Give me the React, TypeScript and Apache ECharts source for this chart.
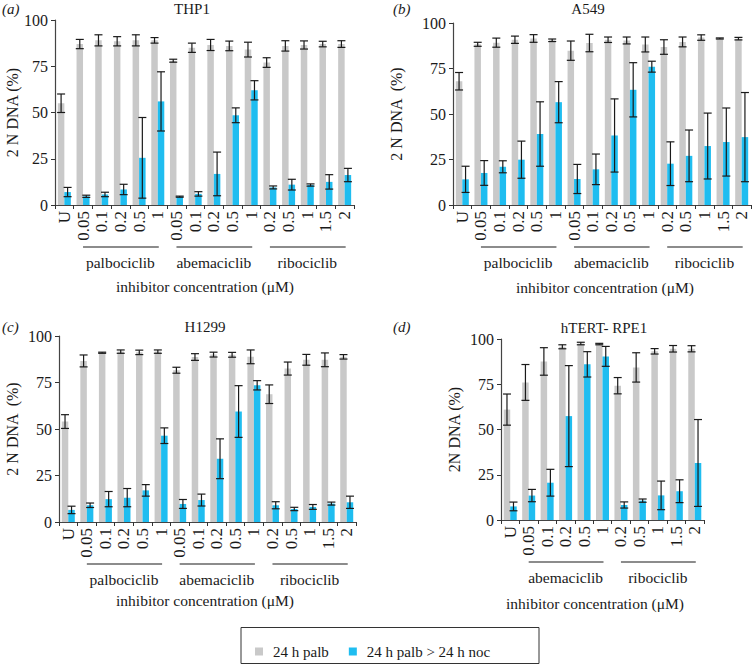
import React, { useEffect, useRef } from "react";
import * as echarts from "echarts";

const FONT = "'Liberation Serif', 'Times New Roman', serif";
const GRAY = "#c9c9c9";
const BLUE = "#1fbdf0";
const INK = "#1a1a1a";

// ---- tick labels ----
const ticks16 = ["U", "0.05", "0.1", "0.2", "0.5", "1", "0.05", "0.1", "0.2", "0.5", "1", "0.2", "0.5", "1", "1.5", "2"];
const ticks11 = ["U", "0.05", "0.1", "0.2", "0.5", "1", "0.2", "0.5", "1", "1.5", "2"];
const legendNames = ["24 h palb", "24 h palb > 24 h noc"];

// ---- (a) THP1 ----
const thp1Gray = [55, 87, 89, 88.5, 89, 89, 78, 85, 86.5, 86, 84, 77, 86, 86.5, 87, 87];
const thp1GrayErr = [5, 2.5, 3, 2.5, 3, 1.5, 0.8, 2.5, 3, 2.6, 4, 2.6, 2.8, 2.2, 1.5, 1.8];
const thp1Blue = [7, 4.7, 5.7, 8.4, 25.5, 56, 4.5, 6, 16.8, 48.5, 62, 9.5, 11, 10.8, 12.5, 16.2];
const thp1BlueErr = [2.5, 0.6, 1.2, 2.8, 21.8, 16, 0.3, 1.2, 11.8, 4, 5.2, 0.8, 2.9, 0.6, 3.9, 3.6];

// ---- (b) A549 ----
const a549Gray = [68, 88.3, 89.2, 90.8, 91.5, 90.5, 84.8, 89, 90.8, 90.4, 88.2, 86.8, 89.6, 92, 91.5, 91.4];
const a549GrayErr = [4.8, 1.1, 2.5, 2, 2.1, 0.7, 5.3, 4.8, 1.5, 1.9, 4.1, 4, 2.7, 1.5, 0.3, 0.7];
const a549Blue = [14.1, 17.6, 21, 24.9, 39, 56.5, 14.3, 19.6, 38.2, 63.3, 76, 22.7, 27, 32.4, 34.6, 37.3];
const a549BlueErr = [7.2, 6.8, 3.3, 10.2, 17.7, 11.3, 8, 8.4, 20.1, 14.9, 3, 12, 14.2, 18.1, 18.7, 24.5];

// ---- (c) H1299 ----
const h1299Gray = [54, 86.6, 91, 91.6, 91.2, 91.6, 81.6, 88.7, 90, 89.9, 88.8, 68.7, 82.5, 87.2, 87.2, 88.8];
const h1299GrayErr = [3.7, 3.2, 0.3, 0.9, 1.2, 0.9, 1.6, 1.8, 1.3, 1.3, 3.7, 5, 3.5, 2.9, 3.7, 1.2];
const h1299Blue = [6.5, 9, 12.3, 13.1, 17, 46.4, 9.7, 11.8, 34, 59.4, 73.5, 9, 7, 8.1, 9.9, 10.6];
const h1299BlueErr = [2, 1.2, 4.1, 4.9, 3.1, 4.2, 2.4, 3.2, 10.7, 13.9, 2.5, 1.9, 0.9, 1.3, 0.8, 3.3];

// ---- (d) hTERT-RPE1 ----
const rpeGray = [61, 76, 87.6, 95.7, 97.5, 97.2, 74.2, 84.3, 93.2, 94.6, 94.6];
const rpeGrayErr = [8.6, 9.9, 7.6, 1.1, 0.7, 0.4, 4.5, 8.1, 1.5, 1.8, 1.7];
const rpeBlue = [7.5, 13.5, 20.6, 57.4, 86, 90.4, 8.3, 10.7, 13.6, 15.9, 31.5];
const rpeBlueErr = [2.4, 3.4, 7.4, 27.9, 7, 5.5, 1.7, 0.9, 7.9, 6.3, 24];

// ---- groups (category index ranges) ----
const groups3 = [
  { name: "palbociclib", from: 1, to: 5 },
  { name: "abemaciclib", from: 6, to: 10 },
  { name: "ribociclib", from: 11, to: 15 },
];
const groups2 = [
  { name: "abemaciclib", from: 1, to: 5 },
  { name: "ribociclib", from: 6, to: 10 },
];

const panels = [
  { letter: "(a)", title: "THP1", yName: "2 N DNA (%)", ticks: ticks16, gray: thp1Gray, grayErr: thp1GrayErr, blue: thp1Blue, blueErr: thp1BlueErr, groups: groups3 },
  { letter: "(b)", title: "A549", yName: "2 N DNA  (%)", ticks: ticks16, gray: a549Gray, grayErr: a549GrayErr, blue: a549Blue, blueErr: a549BlueErr, groups: groups3 },
  { letter: "(c)", title: "H1299", yName: "2 N DNA  (%)", ticks: ticks16, gray: h1299Gray, grayErr: h1299GrayErr, blue: h1299Blue, blueErr: h1299BlueErr, groups: groups3 },
  { letter: "(d)", title: "hTERT- RPE1", yName: "2N DNA (%)", ticks: ticks11, gray: rpeGray, grayErr: rpeGrayErr, blue: rpeBlue, blueErr: rpeBlueErr, groups: groups2 },
];

// layout (pixels)
const layout = [
  { grid: { left: 55, top: 20, width: 299, height: 185 }, nameGap: 35, title: [192, 9], letter: [2, 9], axisTitle: [205, 286] },
  { grid: { left: 453, top: 23, width: 298, height: 182 }, nameGap: 49, title: [588, 9], letter: [393, 9], axisTitle: [605, 287] },
  { grid: { left: 59, top: 336, width: 297, height: 186 }, nameGap: 39, title: [205, 327], letter: [2, 327], axisTitle: [205, 600] },
  { grid: { left: 501, top: 339, width: 203, height: 181 }, nameGap: 39, title: [604, 328], letter: [393, 327], axisTitle: [595, 603] },
];

const BAR_W = 6.5;

function errRenderer(offset: number) {
  return (params: any, api: any) => {
    const x = api.value(0);
    const v = api.value(1);
    const e = api.value(2);
    const hi = api.coord([x, v + e]);
    const lo = api.coord([x, Math.max(0, v - e)]);
    const cx = hi[0] + offset;
    const cap = 4;
    const style = { stroke: INK, lineWidth: 1.2 };
    return {
      type: "group",
      children: [
        { type: "line", shape: { x1: cx, y1: hi[1], x2: cx, y2: lo[1] }, style },
        { type: "line", shape: { x1: cx - cap, y1: hi[1], x2: cx + cap, y2: hi[1] }, style },
        { type: "line", shape: { x1: cx - cap, y1: lo[1], x2: cx + cap, y2: lo[1] }, style },
      ],
    };
  };
}

export default function App() {
  const ref = useRef<HTMLDivElement>(null);
  useEffect(() => {
    document.body.style.margin = "0";
    if (!ref.current) return;
    const chart = echarts.init(ref.current, undefined, { renderer: "svg" });

    const grids: any[] = [];
    const xAxes: any[] = [];
    const yAxes: any[] = [];
    const series: any[] = [];

    panels.forEach((p, i) => {
      const L = layout[i];
      grids.push({ ...L.grid, containLabel: false });
      xAxes.push({
        type: "category",
        gridIndex: i,
        data: p.ticks,
        axisLine: { lineStyle: { color: "#444", width: 1.2 } },
        axisTick: { show: true, length: 4, alignWithLabel: false, lineStyle: { color: "#333" } },
        axisLabel: { interval: 0, rotate: 90, margin: 6, fontFamily: FONT, fontSize: 17, color: INK },
        splitLine: { show: false },
      });
      yAxes.push({
        type: "value",
        gridIndex: i,
        min: 0,
        max: 100,
        interval: 25,
        name: p.yName,
        nameLocation: "middle",
        nameRotate: 90,
        nameGap: L.nameGap,
        nameTextStyle: { fontFamily: FONT, fontSize: 16, color: INK },
        axisLine: { show: true, lineStyle: { color: "#444", width: 1.2 } },
        axisTick: { show: true, length: 4, lineStyle: { color: "#333" } },
        axisLabel: { margin: 7, fontFamily: FONT, fontSize: 16, color: INK },
        splitLine: { show: false },
      });
      series.push({
        type: "bar",
        name: legendNames[0],
        xAxisIndex: i,
        yAxisIndex: i,
        data: p.gray,
        barWidth: BAR_W,
        barGap: "0%",
        itemStyle: { color: GRAY },
      });
      series.push({
        type: "bar",
        name: legendNames[1],
        xAxisIndex: i,
        yAxisIndex: i,
        data: p.blue,
        barWidth: BAR_W,
        barGap: "0%",
        itemStyle: { color: BLUE },
      });
      series.push({
        type: "custom",
        name: "err-gray-" + i,
        xAxisIndex: i,
        yAxisIndex: i,
        z: 5,
        renderItem: errRenderer(-BAR_W / 2),
        data: p.gray.map((v, k) => [k, v, p.grayErr[k]]),
      });
      series.push({
        type: "custom",
        name: "err-blue-" + i,
        xAxisIndex: i,
        yAxisIndex: i,
        z: 5,
        renderItem: errRenderer(BAR_W / 2),
        data: p.blue.map((v, k) => [k, v, p.blueErr[k]]),
      });
    });

    chart.setOption({
      animation: false,
      backgroundColor: "#ffffff",
      grid: grids,
      xAxis: xAxes,
      yAxis: yAxes,
      series,
      legend: {
        data: legendNames,
        left: 250,
        top: 639,
        itemWidth: 8,
        itemHeight: 8,
        itemGap: 20,
        icon: "rect",
        selectedMode: false,
        textStyle: { fontFamily: FONT, fontSize: 15, color: INK, padding: [0, 0, 0, 5] },
      },
    });

    const g: any[] = [];
    const textStyle = (text: string, extra: any = {}) => ({
      text,
      fontFamily: FONT,
      fontSize: 16,
      fill: INK,
      align: "center",
      verticalAlign: "middle",
      ...extra,
    });
    panels.forEach((p, i) => {
      const L = layout[i];
      const y0 = chart.convertToPixel({ yAxisIndex: i } as any, 0) as unknown as number;
      p.groups.forEach((gr) => {
        const x1 = chart.convertToPixel({ xAxisIndex: i } as any, gr.from) as unknown as number;
        const x2 = chart.convertToPixel({ xAxisIndex: i } as any, gr.to) as unknown as number;
        g.push({
          type: "line",
          shape: { x1: x1, y1: y0 + 42, x2: x2 + 1, y2: y0 + 42 },
          style: { stroke: "#666", lineWidth: 1.5 },
        });
        g.push({ type: "text", x: (x1 + x2) / 2, y: y0 + 57, style: textStyle(gr.name, { fontSize: 15.5 }) });
      });
      g.push({ type: "text", x: L.axisTitle[0], y: L.axisTitle[1], style: textStyle("inhibitor concentration (μM)", { fontSize: 15.5 }) });
      g.push({ type: "text", x: L.title[0], y: L.title[1], style: textStyle(p.title, { fontSize: 15 }) });
      g.push({ type: "text", x: L.letter[0], y: L.letter[1], style: textStyle(p.letter, { align: "left", fontStyle: "italic", fontSize: 15 }) });
    });
    g.push({
      type: "rect",
      shape: { x: 241, y: 627.5, width: 298, height: 36 },
      style: { fill: "none", stroke: "#333", lineWidth: 1 },
    });
    chart.setOption({ graphic: g });

    return () => chart.dispose();
  }, []);
  return <div ref={ref} style={{ width: 753, height: 666 }} />;
}
